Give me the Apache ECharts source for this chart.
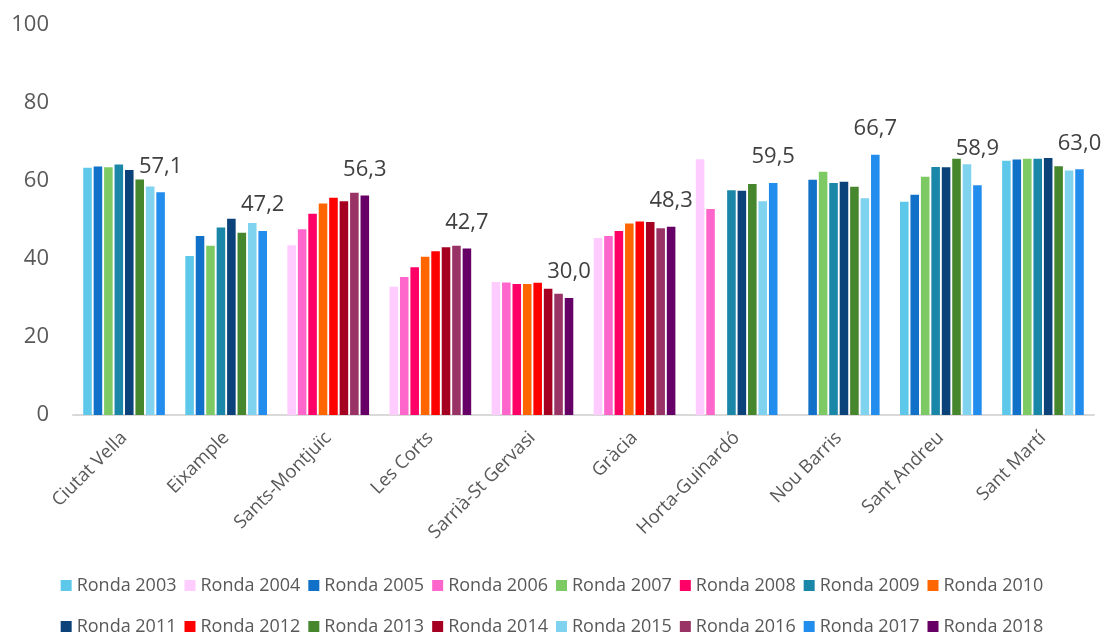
<!DOCTYPE html>
<html>
<head>
<meta charset="utf-8">
<script src="https://cdn.jsdelivr.net/npm/echarts@6/dist/echarts.min.js"></script>
<style>
html,body{margin:0;padding:0;background:#fff;}
#chart{width:1104px;height:635px;}
</style>
</head>
<body>
<div id="chart"></div>
<script>
const categories = ['Ciutat Vella','Eixample','Sants-Montjuïc','Les Corts','Sarrià-St Gervasi','Gràcia','Horta-Guinardó','Nou Barris','Sant Andreu','Sant Martí'];
const rondes = ['Ronda 2003','Ronda 2004','Ronda 2005','Ronda 2006','Ronda 2007','Ronda 2008','Ronda 2009','Ronda 2010','Ronda 2011','Ronda 2012','Ronda 2013','Ronda 2014','Ronda 2015','Ronda 2016','Ronda 2017','Ronda 2018'];
const yTicks = [0, 20, 40, 60, 80, 100];

const r2003 = [63.4, 40.8, null, null, null, null, null, null, 54.7, 65.2];
const r2004 = [null, null, 43.5, 32.9, 34.1, 45.4, 65.6, null, null, null];
const r2005 = [63.7, 45.9, null, null, null, null, null, 60.3, 56.5, 65.5];
const r2006 = [null, null, 47.6, 35.4, 34.0, 45.9, 52.8, null, null, null];
const r2007 = [63.5, 43.4, null, null, null, null, null, 62.4, 61.1, 65.7];
const r2008 = [null, null, 51.6, 37.9, 33.6, 47.2, null, null, null, null];
const r2009 = [64.2, 48.1, null, null, null, null, 57.6, 59.5, 63.6, 65.7];
const r2010 = [null, null, 54.2, 40.6, 33.6, 49.1, null, null, null, null];
const r2011 = [62.8, 50.3, null, null, null, null, 57.5, 59.8, 63.5, 65.9];
const r2012 = [null, null, 55.7, 42.0, 33.9, 49.6, null, null, null, null];
const r2013 = [60.4, 46.7, null, null, null, null, 59.2, 58.5, 65.7, 63.8];
const r2014 = [null, null, 54.8, 43.0, 32.4, 49.5, null, null, null, null];
const r2015 = [58.6, 49.2, null, null, null, null, 54.8, 55.6, 64.3, 62.7];
const r2016 = [null, null, 57.0, 43.4, 31.1, 47.9, null, null, null, null];
const r2017 = [57.1, 47.2, null, null, null, null, 59.5, 66.7, 58.9, 63.0];
const r2018 = [null, null, 56.3, 42.7, 30.0, 48.3, null, null, null, null];

const seriesValues = [r2003,r2004,r2005,r2006,r2007,r2008,r2009,r2010,r2011,r2012,r2013,r2014,r2015,r2016,r2017,r2018];
const colors = ['#5EC8EA','#FFCCFF','#1170C8','#FF66CC','#7DCA64','#FF0066','#1A86A8','#FF6600','#0B4279','#FF0000','#46862D','#A50021','#7FD3EE','#993366','#238DED','#660066'];

// label nudges (styling only), keyed by category index
const labelNudge = { 8: [0, -11] };

const series = rondes.map((name, i) => ({
  name: name,
  type: 'bar',
  stack: 's' + Math.floor(i / 2),
  data: seriesValues[i].map((v, ci) => (labelNudge[ci] && v != null)
    ? { value: v, label: { offset: labelNudge[ci] } } : v),
  itemStyle: { color: colors[i] },
  barGap: '22%',
  barCategoryGap: '20%',
  label: {
    show: i >= 14,
    position: 'top',
    distance: 15,
    fontFamily: 'Open Sans',
    fontSize: 22,
    color: '#404040',
    formatter: p => p.value == null ? '' : Number(p.value).toFixed(1).replace('.', ',')
  }
}));

const chart = echarts.init(document.getElementById('chart'));
chart.setOption({
  animation: false,
  backgroundColor: '#fff',
  textStyle: { fontFamily: 'Open Sans' },
  grid: { left: 73, right: 10, top: 25, bottom: 220, containLabel: false },
  legend: {
    data: rondes,
    left: 'center',
    top: 564,
    width: 1000,
    itemWidth: 11,
    itemHeight: 11,
    itemGap: 8,
    icon: 'rect',
    textStyle: { fontFamily: 'Open Sans', fontSize: 18, color: '#595959', lineHeight: 33 }
  },
  xAxis: {
    type: 'category',
    data: categories,
    axisLine: { show: true, lineStyle: { color: '#D9D9D9', width: 2 } },
    axisTick: { show: false },
    axisLabel: { rotate: 45, margin: 20, fontFamily: 'Open Sans', fontSize: 18.5, color: '#595959', interval: 0 }
  },
  yAxis: {
    type: 'value',
    min: yTicks[0],
    max: yTicks[yTicks.length - 1],
    interval: yTicks[1] - yTicks[0],
    splitLine: { show: false },
    axisLine: { show: false },
    axisTick: { show: false },
    axisLabel: { margin: 24, fontFamily: 'Open Sans', fontSize: 22, color: '#595959' }
  },
  series: series
});
</script>
</body>
</html>
